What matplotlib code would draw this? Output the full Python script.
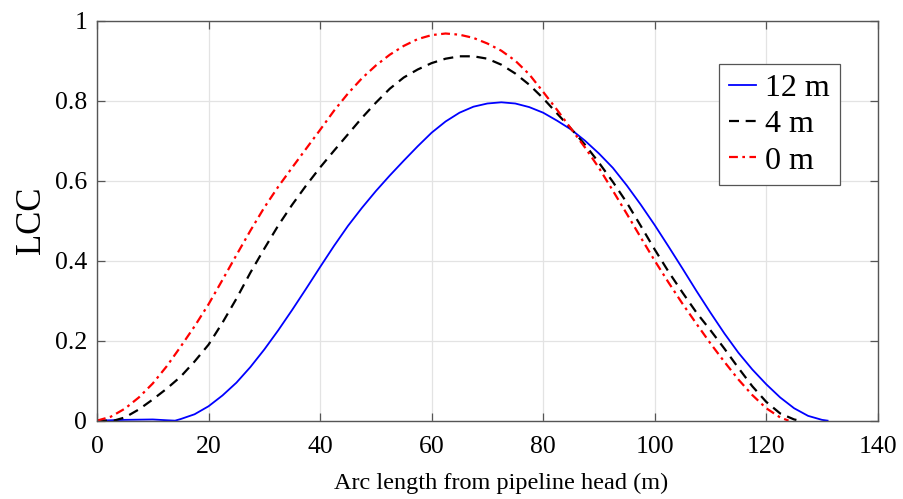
import matplotlib
matplotlib.use('Agg')
import matplotlib.pyplot as plt
from matplotlib.ticker import FuncFormatter

# LCC along the pipeline for three depths
x_12m = [0, 5, 10, 12.5, 14, 15, 17.5, 20, 22.5, 25, 27.5, 30, 32.5, 35, 37.5, 40,
         42.5, 45, 47.5, 50, 52.5, 55, 57.5, 60, 62.5, 65, 67.5, 70, 72.5, 75, 77.5,
         80, 82.5, 85, 87.5, 90, 92.5, 95, 97.5, 100, 102.5, 105, 107.5, 110, 112.5,
         115, 117.5, 120, 122.5, 125, 127.5, 130, 131]
lcc_12m = [0, 0.002, 0.003, 0.001, 0, 0.004, 0.016, 0.036, 0.063, 0.095, 0.134, 0.178,
           0.226, 0.277, 0.33, 0.384, 0.437, 0.487, 0.532, 0.574, 0.613, 0.65, 0.686,
           0.72, 0.748, 0.77, 0.785, 0.793, 0.796, 0.793, 0.784, 0.77, 0.75, 0.728,
           0.70, 0.668, 0.632, 0.588, 0.54, 0.489, 0.435, 0.38, 0.324, 0.27, 0.218,
           0.17, 0.128, 0.091, 0.058, 0.031, 0.012, 0.002, 0]

x_4m = [0, 3, 5, 7.5, 10, 12.5, 15, 17.5, 20, 22.5, 25, 27.5, 30, 32.5, 35, 37.5, 40,
        42.5, 45, 47.5, 50, 52.5, 55, 57.5, 60, 62.5, 65, 67.5, 70, 72.5, 75, 77.5,
        80, 82.5, 85, 87.5, 90, 92.5, 95, 97.5, 100, 102.5, 105, 107.5, 110, 112.5,
        115, 117.5, 120, 122.5, 125, 126]
lcc_4m = [0, 0, 0.008, 0.028, 0.053, 0.08, 0.11, 0.148, 0.19, 0.245, 0.305, 0.37, 0.43,
          0.488, 0.54, 0.588, 0.633, 0.675, 0.716, 0.757, 0.795, 0.83, 0.858, 0.878,
          0.894, 0.905, 0.911, 0.911, 0.905, 0.89, 0.868, 0.84, 0.806, 0.768, 0.73,
          0.69, 0.645, 0.597, 0.545, 0.487, 0.428, 0.372, 0.32, 0.27, 0.226, 0.18,
          0.132, 0.086, 0.047, 0.018, 0.003, 0]

x_0m = [0, 2.5, 5, 7.5, 10, 12.5, 15, 17.5, 20, 22.5, 25, 27.5, 30, 32.5, 35, 37.5, 40,
        42.5, 45, 47.5, 50, 52.5, 55, 57.5, 60, 62.5, 65, 67.5, 70, 72.5, 75, 77.5,
        80, 82.5, 85, 87.5, 90, 92.5, 95, 97.5, 100, 102.5, 105, 107.5, 110, 112.5,
        115, 117.5, 120, 122.5, 124]
lcc_0m = [0, 0.01, 0.03, 0.058, 0.093, 0.136, 0.185, 0.236, 0.291, 0.352, 0.414, 0.475,
          0.533, 0.585, 0.633, 0.68, 0.727, 0.775, 0.818, 0.856, 0.888, 0.915, 0.937,
          0.954, 0.964, 0.968, 0.965, 0.957, 0.943, 0.925, 0.9, 0.866, 0.822, 0.777,
          0.73, 0.683, 0.632, 0.575, 0.517, 0.458, 0.40, 0.345, 0.292, 0.242, 0.193,
          0.147, 0.103, 0.064, 0.031, 0.008, 0]

xticks = [0, 20, 40, 60, 80, 100, 120, 140]
yticks = [0, 0.2, 0.4, 0.6, 0.8, 1]

plt.rcParams['font.family'] = ['Liberation Serif', 'DejaVu Serif']

fig = plt.figure(figsize=(9.04, 4.99), dpi=100)
ax = fig.add_axes([0.1073, 0.157, 0.8637, 0.8015])

ax.plot(x_12m, lcc_12m, color='#0000ff', lw=1.3, label='12 m')
ax.plot(x_4m, lcc_4m, color='black', lw=1.6, dashes=(4.5, 3), label='4 m')
ax.plot(x_0m, lcc_0m, color='#ff0000', lw=1.6, dashes=(4, 2, 1.2, 2), label='0 m')

ax.set_xlim(0, 140)
ax.set_ylim(0, 1)
ax.set_xticks(xticks)
ax.set_yticks(yticks)
ax.yaxis.set_major_formatter(FuncFormatter(lambda v, p: '%g' % v))
ax.grid(True, color='#e3e3e3', lw=0.9)
ax.set_axisbelow(True)
ax.tick_params(direction='in', length=6, width=0.9, color='#555555',
               top=True, right=True, labelsize=18.5)
ax.tick_params(axis='x', pad=11)
ax.tick_params(axis='y', pad=7)
for s in ax.spines.values():
    s.set_color('#555555')
    s.set_linewidth(1.0)

ax.set_xlabel('Arc length from pipeline head (m)', fontsize=17.5)
ax.xaxis.set_label_coords(0.517, -0.13)
ax.set_ylabel('LCC', fontsize=25, labelpad=5)

leg = ax.legend(loc='upper right', bbox_to_anchor=(0.9513, 0.892), fontsize=23,
                handlelength=0.85, handletextpad=0.3, borderpad=0.3,
                labelspacing=0.22, borderaxespad=0, fancybox=False, framealpha=1)
leg.get_frame().set_edgecolor('#555555')
leg.get_frame().set_linewidth(0.9)

fig.savefig('out.png', dpi=100)
